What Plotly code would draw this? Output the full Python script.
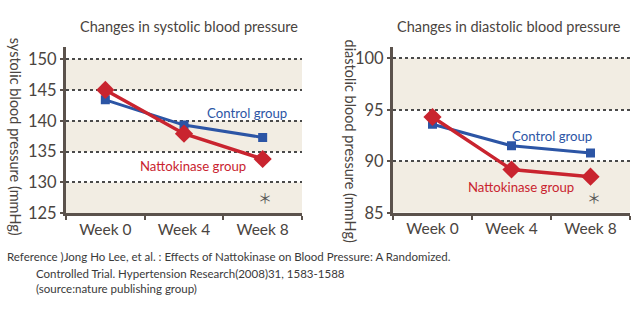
import plotly.graph_objects as go

weeks = ["Week 0", "Week 4", "Week 8"]
sys_control = [143.4, 139.3, 137.3]
sys_natto = [145.0, 137.9, 133.8]
dia_control = [93.6, 91.5, 90.8]
dia_natto = [94.3, 89.2, 88.5]

sys_ticks = [125, 130, 135, 140, 145, 150]
dia_ticks = [85, 90, 95, 100]
sys_bands = [(145, 150), (135, 140), (125, 130)]
dia_bands = [(95, 100), (85, 90)]

W, H = 638, 324
FONT = "Lato"
BLUE = "#2c55a5"
RED = "#c9242f"
AXIS = "#5b524c"
TXT = "#4a4440"
BEIGE = "#f2ede3"

def px(x):
    return x / W

def py(y):
    return 1 - y / H

fig = go.Figure()

fig.add_trace(go.Scatter(x=weeks, y=sys_control, mode="lines+markers", xaxis="x", yaxis="y",
                         line=dict(color=BLUE, width=3), marker=dict(symbol="square", size=9, color=BLUE)))
fig.add_trace(go.Scatter(x=weeks, y=sys_natto, mode="lines+markers", xaxis="x", yaxis="y",
                         line=dict(color=RED, width=3.5), marker=dict(symbol="diamond", size=14, color=RED)))
fig.add_trace(go.Scatter(x=weeks, y=dia_control, mode="lines+markers", xaxis="x2", yaxis="y2",
                         line=dict(color=BLUE, width=3), marker=dict(symbol="square", size=9, color=BLUE)))
fig.add_trace(go.Scatter(x=weeks, y=dia_natto, mode="lines+markers", xaxis="x2", yaxis="y2",
                         line=dict(color=RED, width=3.5), marker=dict(symbol="diamond", size=14, color=RED)))

shapes = []
for lo, hi in sys_bands:
    shapes.append(dict(type="rect", xref="x domain", yref="y", x0=0, x1=1, y0=lo, y1=hi,
                       fillcolor=BEIGE, line=dict(width=0), layer="below"))
for lo, hi in dia_bands:
    shapes.append(dict(type="rect", xref="x2 domain", yref="y2", x0=0, x1=1, y0=lo, y1=hi,
                       fillcolor=BEIGE, line=dict(width=0), layer="below"))

xcommon = dict(type="category", range=[-0.5, 2.5], showline=True, linewidth=3, linecolor=AXIS,
               ticks="outside", ticklen=4, tickwidth=2, tickcolor=AXIS, tickson="boundaries",
               showgrid=False, zeroline=False, tickfont=dict(family=FONT, size=15.5, color=TXT),
               fixedrange=True)
ycommon = dict(showline=True, linewidth=3, linecolor=AXIS, ticks="outside", ticklen=3, tickwidth=2,
               tickcolor=AXIS, showgrid=True, gridcolor="#4a4a4a", gridwidth=1.5, griddash="dot",
               zeroline=False, tickfont=dict(family=FONT, size=16.5, color=TXT), fixedrange=True)

fig.update_layout(
    width=W, height=H, margin=dict(l=0, r=0, t=0, b=0),
    paper_bgcolor="white", plot_bgcolor="white", showlegend=False,
    xaxis=dict(xcommon, domain=[px(66), px(302)], anchor="y"),
    yaxis=dict(ycommon, domain=[py(220), py(48)], range=[125, 152.05], tickvals=sys_ticks, anchor="x"),
    xaxis2=dict(xcommon, domain=[px(393), px(630)], anchor="y2"),
    yaxis2=dict(ycommon, domain=[py(219.5), py(48)], range=[85, 101.15], tickvals=dia_ticks, anchor="x2"),
    shapes=shapes,
)

ann = []
def text(x, y, s, size, color, angle=0, xanchor="center", family=FONT):
    ann.append(dict(xref="paper", yref="paper", x=px(x), y=py(y), text=s, showarrow=False,
                    font=dict(family=family, size=size, color=color), textangle=angle,
                    xanchor=xanchor, yanchor="middle"))

text(189, 27, "Changes in systolic blood pressure", 14.5, TXT)
text(509, 27, "Changes in diastolic blood pressure", 14.5, TXT)
text(15, 141, "systolic blood pressure (mmHg)", 14.5, TXT, angle=90)
text(350, 145, "diastolic blood pressure (mmHg)", 14.5, TXT, angle=90)
text(247, 117, "Control group", 13.2, BLUE)
text(193, 171, "Nattokinase group", 13.2, RED)
text(552, 140, "Control group", 13.2, BLUE)
text(521, 193, "Nattokinase group", 13.2, RED)
text(265, 203, "＊", 14, "#555555", family="Noto Sans CJK JP")
text(594, 203, "＊", 14, "#555555", family="Noto Sans CJK JP")
text(5, 265, "Reference )Jong Ho Lee, et al. : Effects of Nattokinase on Blood Pressure: A Randomized.", 11.5, "#3a3a3a", xanchor="left")
text(34, 282, "Controlled Trial. Hypertension Research(2008)31, 1583-1588", 11.5, "#3a3a3a", xanchor="left")
text(34, 298, "(source:nature publishing group)", 11.5, "#3a3a3a", xanchor="left")
fig.update_layout(annotations=ann)

fig.write_html("out.html")
